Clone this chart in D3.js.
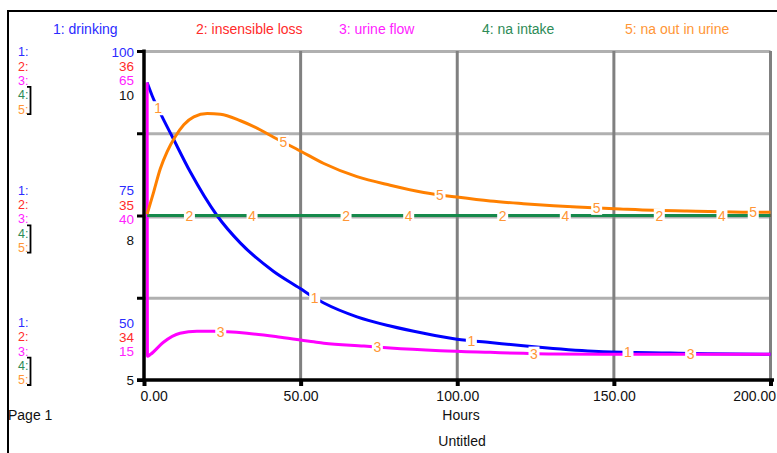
<!DOCTYPE html>
<html><head><meta charset="utf-8">
<script src="https://cdn.jsdelivr.net/npm/d3@7"></script>
<style>
html,body{margin:0;padding:0;background:#fff;}
svg{display:block;font-family:"Liberation Sans",Arial,sans-serif;}
</style></head><body>
<svg id="chart" width="777" height="453"></svg>
<script>
// ---------- data ----------
const seriesNames  = ["drinking", "insensible loss", "urine flow", "na intake", "na out in urine"];
const lineColors   = ["#0000ff", "#ff0000", "#ff00ff", "#15894b", "#ff8000"];
const textColors   = ["#2b2bff", "#ff2b2b", "#ff22ff", "#2e8b57", "#ff9636"];
const xTicks       = [0, 50, 100, 150, 200];
const xLabel       = "Hours";
const chartTitle   = "Untitled";
const pageLabel    = "Page 1";

const drinkingDomain = [50, 100];
const lossDomain     = [34, 36];
const urineDomain    = [15, 65];
const naDomain       = [5, 10];

const drinkingT = [1, 2.6, 5.8, 9.0, 14.8, 23.3, 30.8, 41.4, 49.9, 54.0, 57.4, 68.0, 78.6, 89.3, 99.9, 110.5, 121.1, 130.6, 146.6, 168.0, 180, 200];
const drinkingV = [95.2, 93.2, 90.0, 87.0, 81.6, 75.0, 70.8, 66.5, 63.9, 62.6, 61.7, 59.6, 58.2, 57.1, 56.2, 55.7, 55.2, 54.8, 54.3, 54.1, 54.0, 53.9];

const lossT = [1, 200];
const lossV = [35, 35];

const urineT = [1, 1.1, 2.1, 6.1, 11.5, 16.9, 22.2, 32.9, 43.6, 54.2, 57.4, 70.2, 78.6, 94.6, 110.5, 121.1, 130.6, 150, 200];
const urineV = [60.2, 18.6, 18.9, 20.7, 22.1, 22.4, 22.4, 22.1, 21.5, 20.8, 20.6, 20.15, 19.85, 19.45, 19.2, 19.05, 18.95, 18.9, 18.9];

const naIntakeT = [1, 200];
const naIntakeV = [7.5, 7.5];

const naOutT = [1, 3.1, 5.2, 7.4, 10.0, 12.7, 15.9, 20.2, 24.4, 30.8, 37.2, 41.4, 49.9, 57.4, 68.0, 78.6, 89.3, 99.9, 110.5, 121.1, 130.7, 138.2, 152, 162.6, 173.3, 193.5, 200];
const naOutV = [7.52, 7.86, 8.21, 8.47, 8.70, 8.88, 9.00, 9.05, 9.04, 8.94, 8.80, 8.69, 8.48, 8.29, 8.09, 7.96, 7.85, 7.78, 7.72, 7.68, 7.65, 7.63, 7.60, 7.58, 7.57, 7.55, 7.55];

const labelFirstT = [4.5, 14.5, 24.5, 34.5, 44.5];
const labelEvery  = 50;

// ---------- layout ----------
const svg = d3.select("#chart");
const L = 144, R = 770.5, T = 51, B = 380;
const x = d3.scaleLinear().domain([0, 200]).range([L, R]);
const yFrac = d3.scaleLinear().domain([0, 1]).range([B, T]);
const domains = [drinkingDomain, lossDomain, urineDomain, naDomain, naDomain];
const yScales = domains.map(d => d3.scaleLinear().domain(d).range([B, T]));
const seriesT = [drinkingT, lossT, urineT, naIntakeT, naOutT];
const seriesV = [drinkingV, lossV, urineV, naIntakeV, naOutV];

// frame
svg.append("line").attr("x1", 8).attr("x2", 777).attr("y1", 11).attr("y2", 11).attr("stroke", "#000").attr("stroke-width", 2);
svg.append("line").attr("x1", 8).attr("x2", 8).attr("y1", 10).attr("y2", 453).attr("stroke", "#000").attr("stroke-width", 2);

// legend
svg.append("g").selectAll("text").data(seriesNames).join("text")
  .attr("x", (d, i) => 53 + i * 143).attr("y", 33.5)
  .attr("font-size", 14).attr("fill", (d, i) => textColors[i])
  .text((d, i) => (i + 1) + ": " + d);

// grid
const grid = svg.append("g");
grid.selectAll("line.h").data([0.25, 0.5, 0.75, 1]).join("line").attr("class", "h")
  .attr("x1", L).attr("x2", R).attr("y1", d => yFrac(d) + (d === 0.5 ? 1.5 : 0.5)).attr("y2", d => yFrac(d) + (d === 0.5 ? 1.5 : 0.5))
  .attr("stroke", "#b0b0b0").attr("stroke-width", 3);
grid.selectAll("line.v").data(xTicks.slice(1)).join("line").attr("class", "v")
  .attr("x1", d => x(d)).attr("x2", d => x(d)).attr("y1", T).attr("y2", B)
  .attr("stroke", "#808080").attr("stroke-width", 3);

// series lines
[0, 1, 2, 3, 4].forEach(i => {
  const pts = seriesT[i].map((t, k) => [t, seriesV[i][k]]);
  const line = d3.line().x(d => x(d[0])).y(d => yScales[i](d[1])).curve(d3.curveMonotoneX);
  svg.append("path").datum(pts).attr("d", line)
    .attr("fill", "none").attr("stroke", lineColors[i]).attr("stroke-width", 3)
    .attr("stroke-linejoin", "round");
});

// axes
const xAxis = d3.axisBottom(x).tickValues(xTicks).tickFormat(d3.format(".2f")).tickSize(6).tickPadding(5).tickSizeOuter(0);
const gx = svg.append("g").attr("transform", `translate(0,${B})`).call(xAxis);
gx.select(".domain").remove();
gx.selectAll(".tick line").attr("stroke", "#000").attr("stroke-width", 4);
gx.selectAll(".tick text").attr("font-size", 14).attr("fill", "#111").attr("font-family", "Liberation Sans, Arial, sans-serif")
  .attr("text-anchor", d => d === 0 ? "start" : (d === 200 ? "end" : "middle"))
  .attr("dx", d => d === 0 ? -4 : (d === 200 ? 5 : 0));
svg.append("line").attr("x1", 137).attr("x2", 774).attr("y1", B).attr("y2", B).attr("stroke", "#000").attr("stroke-width", 3.5);

const yAxis = d3.axisLeft(yFrac).tickValues([0, 0.25, 0.5, 0.75, 1]).tickSize(7).tickFormat("").tickSizeOuter(0);
const gy = svg.append("g").attr("transform", `translate(${L},0)`).call(yAxis);
gy.select(".domain").remove();
gy.selectAll(".tick line").attr("stroke", "#000").attr("stroke-width", 3);
svg.append("line").attr("x1", L).attr("x2", L).attr("y1", T - 1.5).attr("y2", B + 2).attr("stroke", "#000").attr("stroke-width", 3.5);

// axis titles
svg.append("text").attr("x", 461).attr("y", 420).attr("text-anchor", "middle").attr("font-size", 14).attr("fill", "#111").text(xLabel);
svg.append("text").attr("x", 462).attr("y", 446).attr("text-anchor", "middle").attr("font-size", 14).attr("fill", "#111").text(chartTitle);
svg.append("text").attr("x", 8).attr("y", 420).attr("font-size", 14).attr("fill", "#111").text(pageLabel);

// left multi-scale labels
const fmt = d3.format(".0f");
const rowH = 14.3;
const groups = [
  {startY: T + 1,        pick: d => d[1], naRow: 3},
  {startY: 190.5,        pick: d => (d[0] + d[1]) / 2, naRow: 3.5},
  {startY: B - 4 * rowH, pick: d => d[0], naRow: 4}
];
const lf = 12.5;
groups.forEach(g => {
  for (let i = 0; i < 5; i++) {
    svg.append("text").attr("x", 18).attr("y", g.startY + i * rowH).attr("dy", "0.35em")
      .attr("font-size", lf).attr("fill", textColors[i]).text((i + 1) + ":");
  }
  for (let i = 0; i < 3; i++) {
    svg.append("text").attr("x", 134).attr("y", g.startY + i * rowH).attr("dy", "0.35em")
      .attr("text-anchor", "end").attr("font-size", 13.5).attr("fill", textColors[i])
      .text(fmt(g.pick(domains[i])));
  }
  svg.append("text").attr("x", 134).attr("y", g.startY + g.naRow * rowH).attr("dy", "0.35em")
    .attr("text-anchor", "end").attr("font-size", 13.5).attr("fill", "#111")
    .text(fmt(g.pick(naDomain)));
  const y1 = g.startY + 3 * rowH - 8, y2 = g.startY + 4 * rowH + 5;
  svg.append("path").attr("d", `M27,${y1}H30.5V${y2}H27`).attr("fill", "none").attr("stroke", "#000").attr("stroke-width", 1.8);
});

// numbered line labels
function valueAt(ts, vs, t) {
  const i = d3.bisectLeft(ts, t);
  if (i <= 0) return vs[0];
  if (i >= ts.length) return vs[vs.length - 1];
  const t0 = ts[i - 1], t1 = ts[i];
  return vs[i - 1] + (vs[i] - vs[i - 1]) * (t - t0) / (t1 - t0);
}
const lab = svg.append("g");
for (let i = 0; i < 5; i++) {
  for (let k = 0; k < 4; k++) {
    const t = labelFirstT[i] + k * labelEvery;
    const cx = x(t), cy = yScales[i](valueAt(seriesT[i], seriesV[i], t));
    lab.append("rect").attr("x", cx - 5.5).attr("y", cy - 7).attr("width", 11).attr("height", 14).attr("fill", "#fff");
    lab.append("text").attr("x", cx).attr("y", cy).attr("dy", "0.36em").attr("text-anchor", "middle")
      .attr("font-size", 14).attr("fill", "#ff9636").text(i + 1);
  }
}
</script>
</body></html>
